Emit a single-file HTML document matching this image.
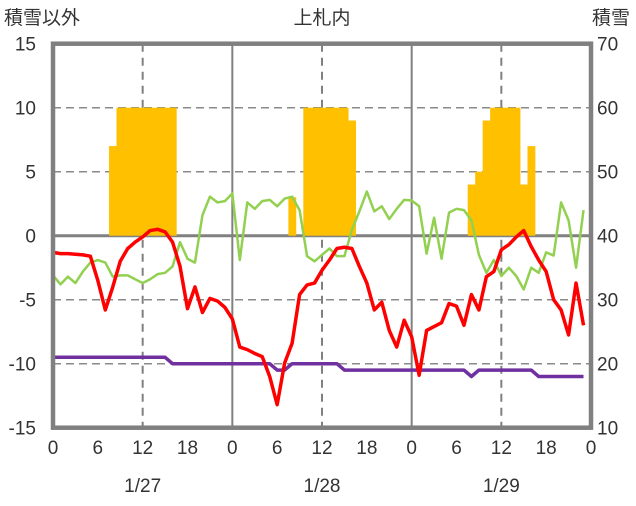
<!DOCTYPE html>
<html><head><meta charset="utf-8"><style>
html,body{margin:0;padding:0;background:#fff;}
svg text{font-family:"Liberation Sans","Noto Sans CJK JP",sans-serif;fill:#333;}
</style></head><body>
<svg id="chart" width="636" height="501" viewBox="0 0 636 501" xmlns="http://www.w3.org/2000/svg">
<text x="4" y="24" font-size="19">積雪以外</text>
<text x="322" y="24" font-size="19" text-anchor="middle">上札内</text>
<text x="592" y="24" font-size="19">積雪</text>
<g id="grid"></g>
<g id="bars"></g>
<g id="lines"></g>
<g id="frame"></g>
<g id="labels"></g>
</svg>
<script>
const leftTicks=[15,10,5,0,-5,-10,-15];
const rightTicks=[70,60,50,40,30,20,10];
const hourTicks=["0","6","12","18","0","6","12","18","0","6","12","18","0"];
const dates=["1/27","1/28","1/29"];
const snowDepth=[0,0,0,0,0,0,0,0,54,60,60,60,60,60,60,60,60,0,0,0,0,0,0,0,
0,0,0,0,0,0,0,0,46,0,60,60,60,60,60,60,58,0,0,0,0,0,0,0,
0,0,0,0,0,0,0,0,48,50,58,60,60,60,60,48,54,0,0,0,0,0,0,0];
const redSeries=[-1.3,-1.4,-1.4,-1.45,-1.5,-1.6,-3.5,-5.8,-4.0,-2.0,-1.0,-0.5,-0.1,0.4,0.5,0.3,-0.5,-2.4,-5.7,-4.0,-6.0,-4.9,-5.1,-5.6,
-6.5,-8.7,-8.9,-9.2,-9.45,-11.0,-13.2,-9.95,-8.4,-4.6,-3.85,-3.7,-2.7,-1.9,-1.0,-0.9,-1.0,-2.4,-3.7,-5.8,-5.2,-7.4,-8.7,-6.6,
-7.9,-10.9,-7.4,-7.1,-6.8,-5.3,-5.5,-7.0,-4.6,-5.8,-3.2,-2.8,-1.1,-0.7,-0.1,0.4,-0.85,-1.9,-2.8,-5.0,-5.8,-7.75,-3.7,-7.0];
const greenSeries=[-3.1,-3.8,-3.2,-3.7,-2.8,-2.1,-1.9,-2.1,-3.2,-3.1,-3.1,-3.4,-3.7,-3.4,-3.0,-2.9,-2.4,-0.5,-1.8,-2.1,1.6,3.05,2.6,2.7,
3.3,-1.9,2.6,2.1,2.7,2.8,2.3,2.9,3.05,2.0,-1.6,-2.0,-1.5,-1.0,-1.6,-1.6,0.45,1.9,3.45,1.9,2.3,1.3,2.1,2.8,
2.75,2.3,-1.4,1.4,-1.8,1.8,2.1,2.0,1.2,-1.5,-2.9,-1.9,-3.15,-2.5,-3.15,-4.2,-2.5,-2.9,-1.3,-1.55,2.6,1.2,-2.5,2.0];
const purpleSeries=[-9.5,-9.5,-9.5,-9.5,-9.5,-9.5,-9.5,-9.5,-9.5,-9.5,-9.5,-9.5,-9.5,-9.5,-9.5,-9.5,-10,-10,-10,-10,-10,-10,-10,-10,
-10,-10,-10,-10,-10,-10,-10.5,-10.5,-10,-10,-10,-10,-10,-10,-10,-10.5,-10.5,-10.5,-10.5,-10.5,-10.5,-10.5,-10.5,-10.5,
-10.5,-10.5,-10.5,-10.5,-10.5,-10.5,-10.5,-10.5,-11,-10.5,-10.5,-10.5,-10.5,-10.5,-10.5,-10.5,-10.5,-11,-11,-11,-11,-11,-11,-11];

const X0=53,X1=591,Y0=43.7,Y1=427.7;
const NS="http://www.w3.org/2000/svg";
function xs(h){return X0+h*(X1-X0)/72;}
function yl(v){return 235.7-v*12.8;}
function yr(v){return yl((v-40)/2);}
function mk(tag,attrs,parent){const e=document.createElementNS(NS,tag);for(const k in attrs)e.setAttribute(k,attrs[k]);parent.appendChild(e);return e;}
const grid=document.getElementById('grid'),bars=document.getElementById('bars'),lines=document.getElementById('lines'),frame=document.getElementById('frame'),labels=document.getElementById('labels');
[10,5,-5,-10].forEach(v=>{
 const l=mk('line',{x1:X0,x2:X1,y1:yl(v),y2:yl(v),stroke:'#8a8a8a','stroke-width':1.5,'stroke-dasharray':'8,5'},grid);
 
 
});
[12,36,60].forEach(h=>{
 const l=mk('line',{x1:xs(h),x2:xs(h),y1:Y0,y2:Y1,stroke:'#808080','stroke-width':2,'stroke-dasharray':'8,6'},grid);
 
 
});
[24,48].forEach(h=>{
 const l=mk('line',{x1:xs(h),x2:xs(h),y1:Y0,y2:Y1,stroke:'#808080','stroke-width':2},grid);
 
 
});
const bw=(X1-X0)/72;
snowDepth.forEach((v,i)=>{
 if(v<=40)return;
 const r=mk('rect',{x:xs(i)-bw/2,y:yr(v),width:bw+0.4,height:yr(40)-yr(v),fill:'#FFC000'},bars);
 
 
});
const z=mk('line',{x1:X0,x2:X1,y1:yl(0),y2:yl(0),stroke:'#808080','stroke-width':3},grid);


function line(arr,color,w,name){
 const p=mk('polyline',{points:arr.map((v,i)=>xs(i)+','+yl(v)).join(' '),fill:'none',stroke:color,'stroke-width':w,'stroke-linejoin':'round'},lines);
 
 
}
line(greenSeries,'#92D050',2.5,'green-series-line');
line(purpleSeries,'#7030A0',3.5,'purple-series-line');
line(redSeries,'#FF0000',3.5,'red-series-line');
const fr=mk('rect',{x:X0,y:Y0,width:X1-X0,height:Y1-Y0,fill:'none',stroke:'#808080','stroke-width':4.5},frame);


leftTicks.forEach(v=>{
 const t=mk('text',{x:36,y:yl(v)+7,'font-size':19,'text-anchor':'end'},labels);t.textContent=v;
 
 
});
rightTicks.forEach(v=>{
 const t=mk('text',{x:597,y:yr(v)+7,'font-size':19},labels);t.textContent=v;
 
 
});
hourTicks.forEach((s,i)=>{
 const t=mk('text',{x:xs(i*6),y:454,'font-size':19,'text-anchor':'middle'},labels);t.textContent=s;
 
 
});
dates.forEach((s,i)=>{
 const t=mk('text',{x:xs(12+24*i),y:492,'font-size':19,'text-anchor':'middle'},labels);t.textContent=s;
 
 
});
</script>
</body></html>
